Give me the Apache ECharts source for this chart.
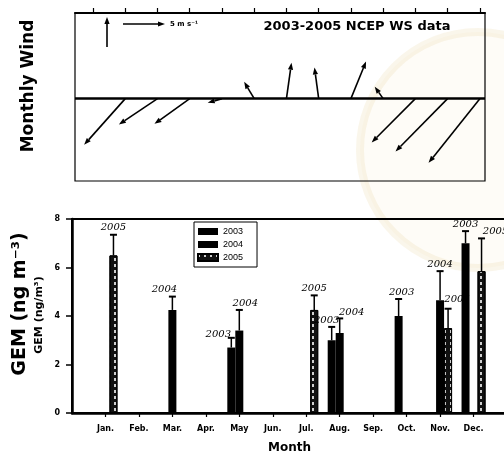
<!DOCTYPE html>
<html>
<head>
<meta charset="utf-8">
<script src="https://cdn.jsdelivr.net/npm/echarts@6/dist/echarts.min.js"></script>
<style>
html,body{margin:0;padding:0;background:#fff;}
#main{width:504px;height:462px;}
</style>
</head>
<body>
<div id="main"></div>
<script>
// monthly wind vectors, m/s (u east, v north)
var windMonths = [1, 2, 3, 4, 5, 6, 7, 8, 9, 10, 11, 12];
var windU = [-4.9, -4.6, -4.2, -1.7, -1.2, 0.6, -0.5, 1.8, -1.0, -5.2, -6.2, -6.1];
var windV = [-7.7, -4.3, -4.2, -0.7, 2.8, 6.0, 5.2, 6.2, 2.0, -7.3, -8.8, -10.7];
var windTicks = [0, 1, 2, 3, 4, 5, 6, 7, 8, 9, 10, 11, 12];

// GEM monthly means and upper error, index 0 and 13 are empty padding slots
var months = ['', 'Jan.', 'Feb.', 'Mar.', 'Apr.', 'May', 'Jun.', 'Jul.', 'Aug.', 'Sep.', 'Oct.', 'Nov.', 'Dec.', ''];
var years = ['2003', '2004', '2005'];
var gem2003 = [null, null, null, null, null, 2.7, null, null, 3.0, null, 4.0, null, 7.0, null];
var err2003 = [null, null, null, null, null, 3.1, null, null, 3.55, null, 4.7, null, 7.5, null];
var gem2004 = [null, null, null, 4.25, null, 3.4, null, null, 3.3, null, null, 4.65, null, null];
var err2004 = [null, null, null, 4.8, null, 4.25, null, null, 3.9, null, null, 5.85, null, null];
var gem2005 = [null, 6.5, null, null, null, null, null, 4.25, null, null, null, 3.5, 5.85, null];
var err2005 = [null, 7.35, null, null, null, null, null, 4.85, null, null, null, 4.3, 7.2, null];

var gemData = [gem2003, gem2004, gem2005];
var errData = [err2003, err2004, err2005];

// drawing constants
var SX = 8.4;  // px per m/s, horizontal
var SY = 6;    // px per m/s, vertical
var BAR_W = 8;
// nudges for the hand written year notes
var noteShift = {
  '2004-3': [-8, 0], '2003-5': [-13, 4], '2004-5': [6, 0], '2003-8': [-5, 0],
  '2004-8': [12, 1], '2003-10': [3, 0], '2005-11': [9, -2], '2005-12': [14, 0]
};

var myChart = echarts.init(document.getElementById('main'));

function arrow(x0, y0, x1, y1) {
  var a = Math.atan2(y1 - y0, x1 - x0);
  var head = 7, w = 2.6;
  var bx = x1 - head * Math.cos(a), by = y1 - head * Math.sin(a);
  var px = -Math.sin(a) * w, py = Math.cos(a) * w;
  return [
    {type: 'line', shape: {x1: x0, y1: y0, x2: bx, y2: by}, style: {stroke: '#000', lineWidth: 1.6}},
    {type: 'polygon', shape: {points: [[x1, y1], [bx + px, by + py], [bx - px, by - py]]}, style: {fill: '#000'}}
  ];
}

var windData = windMonths.map(function (m, i) { return [m, windU[i], windV[i]]; });

var errItems = [];
for (var s = 0; s < years.length; s++) {
  for (var i = 0; i < months.length; i++) {
    if (gemData[s][i] != null) errItems.push([i, gemData[s][i], errData[s][i], s]);
  }
}

var barSeries = years.map(function (y, s) {
  var st = {color: '#000'};
  if (s == 2) {
    st = {
      color: '#111', borderColor: '#000', borderWidth: 1,
      decal: {symbol: 'rect', symbolSize: 1, color: 'rgba(255,255,255,0.8)', dashArrayX: [1.5, 4], dashArrayY: [3, 3], rotation: 0}
    };
  }
  return {
    name: y, type: 'bar', xAxisIndex: 1, yAxisIndex: 1,
    barWidth: BAR_W, barGap: '0%', itemStyle: st, data: gemData[s], z: 2
  };
});

var ff = 'DejaVu Sans';

option = {
  animation: false,
  backgroundColor: '#fff',
  grid: [
    {left: 75, top: 13, width: 410, height: 168, show: true, borderColor: '#000', borderWidth: 1.2, outerBoundsMode: 'none'},
    {left: 72, top: 219, width: 435, height: 194, show: true, borderColor: '#000', borderWidth: 2, outerBoundsMode: 'none'}
  ],
  xAxis: [
    {
      gridIndex: 0, type: 'value', position: 'top', min: -0.56, max: 12.16,
      axisLine: {show: true, onZero: false, lineStyle: {color: '#000', width: 2}},
      axisTick: {show: true, customValues: windTicks, length: 5, lineStyle: {color: '#000', width: 1.2}},
      axisLabel: {show: false}, splitLine: {show: false}
    },
    {
      gridIndex: 1, type: 'category', data: months, boundaryGap: false,
      axisLine: {lineStyle: {color: '#000', width: 2.5}},
      axisTick: {length: 4, interval: function (idx) { return idx > 0 && idx < 13; }, lineStyle: {color: '#000', width: 1.2}},
      axisLabel: {interval: 0, margin: 12, fontSize: 8, fontWeight: 'bold', fontFamily: ff, color: '#000'},
      name: 'Month', nameLocation: 'middle', nameGap: 29,
      nameTextStyle: {fontSize: 12, fontWeight: 'bold', fontFamily: ff, color: '#000'}
    }
  ],
  yAxis: [
    {gridIndex: 0, type: 'value', min: -5, max: 5.2, show: false},
    {
      gridIndex: 1, type: 'value', min: 0, max: 8, interval: 2,
      axisLine: {show: true, lineStyle: {color: '#000', width: 2.5}},
      axisTick: {show: true, length: 6, lineStyle: {color: '#000', width: 1.5}},
      axisLabel: {margin: 12, fontSize: 8, fontWeight: 'bold', fontFamily: ff, color: '#000'},
      splitLine: {show: false}
    }
  ],
  legend: {
    data: years, orient: 'vertical', left: 194, top: 222, icon: 'rect',
    itemWidth: 20, itemHeight: 7, itemGap: 4,
    padding: [5, 14, 5, 3], borderColor: '#000', borderWidth: 1, backgroundColor: '#fff',
    textStyle: {fontSize: 9, fontFamily: 'Liberation Sans', color: '#000'}
  },
  graphic: [
    {type: 'circle', shape: {cx: 478, cy: 150, r: 118}, style: {fill: 'rgba(248,240,215,0.2)', stroke: 'rgba(230,212,165,0.22)', lineWidth: 8}, z: -10, silent: true},
    {type: 'text', x: 29, y: 86, rotation: Math.PI / 2, style: {text: 'Monthly Wind', font: 'bold 17px "DejaVu Sans"', fill: '#000', align: 'center', verticalAlign: 'middle'}},
    {type: 'text', x: 20, y: 304, rotation: Math.PI / 2, style: {text: 'GEM (ng m\u207B\u00B3)', font: 'bold 19px "DejaVu Sans"', fill: '#000', align: 'center', verticalAlign: 'middle'}},
    {type: 'text', x: 39, y: 315, rotation: Math.PI / 2, style: {text: 'GEM (ng/m\u00B3)', font: 'bold 11px "DejaVu Sans"', fill: '#000', align: 'center', verticalAlign: 'middle'}},
    {type: 'text', x: 357, y: 27, style: {text: '2003-2005 NCEP WS data', font: 'bold 13px "DejaVu Sans"', fill: '#000', align: 'center', verticalAlign: 'middle'}},
    {type: 'text', x: 170, y: 24, style: {text: '5 m s\u207B\u00B9', font: 'bold 7px "DejaVu Sans"', fill: '#000', align: 'left', verticalAlign: 'middle'}},
    {type: 'group', children: arrow(123, 24, 123 + 5 * SX, 24)},
    {type: 'group', children: arrow(107, 47, 107, 47 - 5 * SY)}
  ],
  series: [
    {
      type: 'custom', xAxisIndex: 0, yAxisIndex: 0, data: windData, clip: false,
      encode: {x: 0, y: 1},
      renderItem: function (params, api) {
        var p = api.coord([api.value(0), 0]);
        var q = [p[0] + api.value(1) * SX, p[1] - api.value(2) * SY];
        return {type: 'group', children: arrow(p[0], p[1], q[0], q[1])};
      },
      markLine: {
        silent: true, symbol: ['none', 'none'], label: {show: false},
        lineStyle: {color: '#000', width: 2.5, type: 'solid'},
        data: [{yAxis: 0}]
      }
    }
  ].concat(barSeries).concat([
    {
      type: 'custom', xAxisIndex: 1, yAxisIndex: 1, data: errItems, clip: false, z: 5,
      encode: {x: 0, y: 2},
      renderItem: function (params, api) {
        var idx = api.value(0), s = api.value(3);
        var x = api.coord([idx, 0])[0] + (s - 1) * BAR_W;
        var yMean = api.coord([idx, api.value(1)])[1];
        var yTop = api.coord([idx, api.value(2)])[1];
        var sh = noteShift[years[s] + '-' + idx] || [0, 0];
        return {type: 'group', children: [
          {type: 'line', shape: {x1: x, y1: yMean, x2: x, y2: yTop}, style: {stroke: '#000', lineWidth: 1.5}},
          {type: 'line', shape: {x1: x - 3.5, y1: yTop, x2: x + 3.5, y2: yTop}, style: {stroke: '#000', lineWidth: 2}},
          {type: 'text', x: x + sh[0], y: yTop - 2 + sh[1], style: {text: years[s], font: 'italic 10px "DejaVu Serif"', fill: '#000', align: 'center', verticalAlign: 'bottom'}}
        ]};
      }
    }
  ])
};

myChart.setOption(option);
</script>
</body>
</html>
